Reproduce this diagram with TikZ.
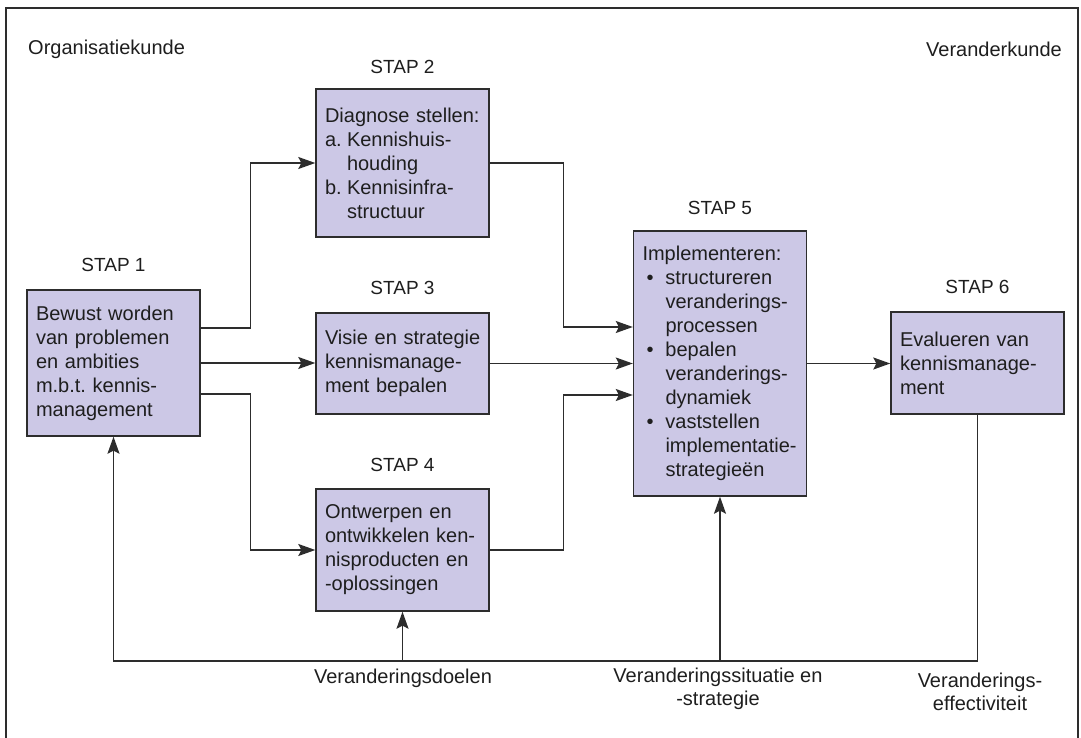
\documentclass[tikz,border=0pt]{standalone}
\usepackage{fontspec}
\setmainfont{Liberation Sans}
\usetikzlibrary{arrows.meta,calc}
\definecolor{boxfill}{RGB}{204,200,230}
\definecolor{linegray}{RGB}{45,45,45}
\definecolor{txt}{RGB}{30,30,30}
\newcommand{\myln}[1]{\mbox{#1}}
\newcommand{\mybul}{\makebox[23pt][l]{\hspace*{4pt}\textbullet}}
\newcommand{\myind}[1]{\mbox{\hspace*{23pt}#1}}
\frenchspacing
\begin{document}
\begin{tikzpicture}[x=1pt,y=-1pt,
  stapbox/.style={draw=linegray,fill=boxfill,line width=1.4pt,text width=155pt,inner xsep=9pt,inner ysep=0pt,
    align=left,text=txt,font=\fontsize{20}{24}\selectfont},
  staplabel/.style={text=txt,font=\fontsize{19}{22}\selectfont,inner sep=0pt},
  lbl/.style={text=txt,font=\fontsize{20}{23}\selectfont,inner sep=0pt,align=center},
  conn/.style={draw=linegray,line width=1.4pt},
  arr/.style={conn,-{Stealth[length=17pt,width=12pt,inset=3pt]}}]
\useasboundingbox (0,0) rectangle (1081,738);
\draw[draw=linegray,line width=1.5pt] (6,740) -- (6,8) -- (1078,8) -- (1078,740);

\node[lbl,anchor=west] (org) at (28,49) {Organisatiekunde};
\node[lbl,anchor=east] (ver) at (1062,49) {Veranderkunde};

\node[stapbox,minimum height=146pt] (b1) at (113.5,363) {\myln{Bewust worden}\\\myln{van problemen}\\\myln{en ambities}\\\myln{m.b.t.\ kennis-}\\\myln{management}};
\node[stapbox,minimum height=148pt] (b2) at (402.5,163) {\myln{Diagnose stellen:}\\\mbox{\makebox[22pt][l]{a.}Kennishuis-}\\\mbox{\hspace*{22pt}houding}\\\mbox{\makebox[22pt][l]{b.}Kennisinfra-}\\\mbox{\hspace*{22pt}structuur}};
\node[stapbox,minimum height=101pt] (b3) at (402.5,363.5) {\myln{Visie en strategie}\\\myln{kennismanage-}\\\myln{ment bepalen}};
\node[stapbox,minimum height=122pt] (b4) at (402.5,550) {\myln{Ontwerpen en}\\\myln{ontwikkelen ken-}\\\myln{nisproducten en}\\\myln{-oplossingen}};
\node[stapbox,minimum height=265pt] (b5) at (720,363.5) {\myln{Implementeren:}\\\mbox{\mybul structureren}\\\myind{veranderings-}\\\myind{processen}\\\mbox{\mybul bepalen}\\\myind{veranderings-}\\\myind{dynamiek}\\\mbox{\mybul vaststellen}\\\myind{implementatie-}\\\myind{strategieën}};
\node[stapbox,minimum height=102pt] (b6) at (977.5,363) {\myln{Evalueren van}\\\myln{kennismanage-}\\\myln{ment}};

\node[staplabel] (s1) at (113.5,265) {STAP 1};
\node[staplabel] (s2) at (402.5,67) {STAP 2};
\node[staplabel] (s3) at (402.5,288) {STAP 3};
\node[staplabel] (s4) at (402.5,465) {STAP 4};
\node[staplabel] (s5) at (720,208) {STAP 5};
\node[staplabel] (s6) at (977.5,287) {STAP 6};

\coordinate (base) at (0,661);

\draw[arr] ($(b1.east)+(0,-35)$) -- ++(50,0) |- (b2.west);
\draw[arr] (b1.east) -- (b1.east -| b3.west);
\draw[arr] ($(b1.east)+(0,31)$) -- ++(50,0) |- (b4.west);
\draw[arr] (b2.east) -- ++(74,0) |- ($(b5.west)+(0,-36.5)$);
\draw[arr] (b3.east) -- (b3.east -| b5.west);
\draw[arr] (b4.east) -- ++(74,0) |- ($(b5.west)+(0,31.5)$);
\draw[arr] (b5.east) -- (b5.east -| b6.west);
\draw[arr] (b6.south) |- (b1.south |- base) -- (b1.south);
\draw[arr] (b4.south |- base) -- (b4.south);
\draw[arr] (b5.south |- base) -- (b5.south);

\node[lbl] (l1) at (403,678) {Veranderingsdoelen};
\node[lbl] (l2) at (718,689) {Veranderingssituatie en\\-strategie};
\node[lbl] (l3) at (980,692) {Veranderings-\\effectiviteit};
\end{tikzpicture}
\end{document}
